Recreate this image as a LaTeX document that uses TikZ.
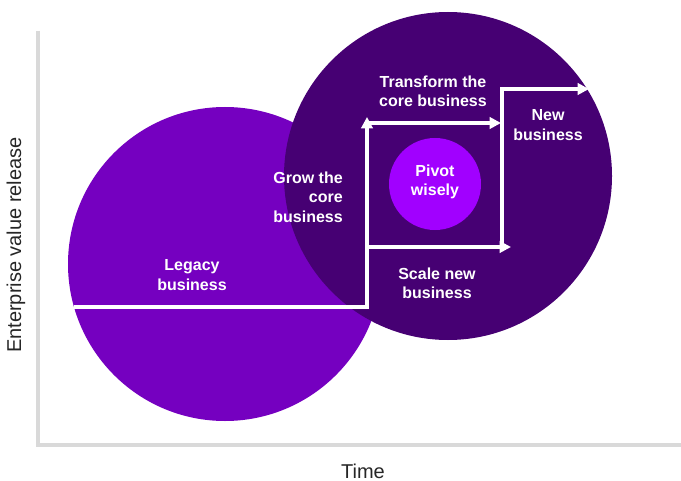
\documentclass[tikz,border=0pt]{standalone}
\usepackage{fontspec}
\setmainfont{Liberation Sans}
\usetikzlibrary{arrows.meta, positioning}

\definecolor{legacypurple}{HTML}{7500C0}
\definecolor{corepurple}{HTML}{460073}
\definecolor{pivotpurple}{HTML}{A100FF}
\definecolor{axisgray}{HTML}{D9D9D9}

\tikzset{
  stagetext/.style={text=white, font=\bfseries\fontsize{12}{14.5}\selectfont, align=center, inner sep=0pt},
  axistext/.style={text=black!85, font=\fontsize{15}{18}\selectfont, inner sep=0pt},
  stageline/.style={draw=white, line width=2.3pt, line join=miter},
  stagearrow/.style={stageline, -{Triangle[length=8.5pt, width=8.5pt]}},
  blob/.style={circle, inner sep=0pt, draw=none}
}

\begin{document}
\begin{tikzpicture}[x=0.75pt, y=-0.75pt]
		\useasboundingbox (0,0) rectangle (681,481);

		% Axes
		\coordinate (origin) at (38,445);
		\coordinate (ytop) at (38,31);
		\coordinate (xend) at (681,445);
		\draw[axisgray, line width=2.4pt] (ytop) -- (origin) -- (xend);

		% Circles
		\node[blob, fill=legacypurple, minimum size=314*0.75pt] (legacy) at (225,264) {};
		\node[blob, fill=corepurple, minimum size=328*0.75pt] (core) at (448,176) {};
		\node[blob, fill=pivotpurple, minimum size=92*0.75pt] (pivot) at (435,184) {};

		% Corner points of the path
		\coordinate (legacystart) at (74,307);
		\coordinate (legacyend) at (367,307);
		\coordinate (growtop) at (367,117);
		\coordinate (transformstart) at (367,123);
		\coordinate (transformend) at (501,123);
		\coordinate (scalestart) at (367,247);
		\coordinate (scaleend) at (511,247);
		\coordinate (newbottom) at (502,247);
		\coordinate (newcorner) at (502,89);
		\coordinate (newend) at (589,89);

		% White path with arrows
		\draw[stagearrow] (legacystart) -- (legacyend) -- (growtop);
		\draw[stagearrow] (transformstart) -- (transformend);
		\draw[stagearrow] (scalestart) -- (scaleend);
		\draw[stagearrow] (newbottom) -- (newcorner) -- (newend);

		% Add labels for the stages
		\node[stagetext] (transformtext) at (433,91) {Transform the\\core business};
		\node[stagetext] (newtext) at (548,125) {New\\business};
		\node[stagetext] (pivottext) at (435,182) {Pivot\\wisely};
		\node[stagetext, align=right, anchor=east] (growtext) at (343,197) {Grow the\\core\\business};
		\node[stagetext] (scaletext) at (437,283) {Scale new\\business};
		\node[stagetext] (legacytext) at (192,275) {Legacy\\business};

		% Add axis labels
		\node[axistext] (timetext) at (363,471) {Time};
		\node[axistext, rotate=90] (valuetext) at (16,245) {Enterprise value release};
\end{tikzpicture}
\end{document}
